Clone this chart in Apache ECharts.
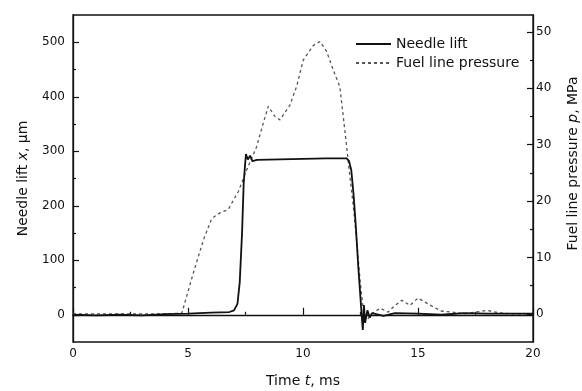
<!DOCTYPE html>
<html>
<head>
<meta charset="utf-8">
<script src="https://cdn.jsdelivr.net/npm/echarts@6/dist/echarts.min.js"></script>
<style>
  html, body { margin: 0; padding: 0; background: #fff; }
  #chart { width: 582px; height: 391px; }
</style>
</head>
<body>
<div id="chart"></div>
<script>
// tick positions
const timeTicks = [0, 5, 10, 15, 20]
const timeMinorTicks = [2.5, 7.5, 12.5, 17.5]
const liftTicks = [0, 100, 200, 300, 400, 500]
const liftMinorTicks = [50, 150, 250, 350, 450]
const pressTicks = [0, 10, 20, 30, 40, 50]
const pressMinorTicks = [5, 15, 25, 35, 45]

// needle lift, um
const liftTime = [0, 1, 2, 3, 4, 5, 6, 6.8, 7.0, 7.15, 7.25, 7.35, 7.42, 7.48, 7.52, 7.6, 7.7, 7.8, 8, 9, 10, 11, 11.9, 12.0, 12.1, 12.2, 12.3, 12.4, 12.5, 12.55, 12.6, 12.65, 12.7, 12.8, 12.9, 13.0, 13.5, 14, 15, 16, 17, 18, 19, 20]
const liftValue = [0, -1, 0, -1, 1, 2, 4, 5, 8, 20, 60, 150, 240, 275, 295, 285, 292, 282, 284, 285, 286, 287, 287, 282, 265, 220, 160, 90, 30, 0, -28, 18, -15, 8, -5, 3, -2, 3, 2, 0, 3, 2, 2, 2]

// fuel line pressure, MPa
const pressTime = [0, 2, 4, 4.73, 5.23, 5.67, 6.03, 6.39, 6.75, 7.19, 7.55, 7.98, 8.27, 8.49, 8.78, 9.0, 9.43, 9.72, 10.01, 10.45, 10.74, 11.03, 11.32, 11.6, 11.75, 11.9, 12.04, 12.19, 12.33, 12.48, 12.62, 12.8, 13.0, 13.35, 13.7, 14.0, 14.3, 14.65, 15.0, 15.5, 16, 16.5, 17, 18, 18.5, 19, 20]
const pressValue = [0, 0, 0, 0.1, 7.2, 13.1, 16.9, 17.9, 18.5, 21.7, 25.5, 29.6, 33.8, 36.8, 35, 34.4, 37, 40.3, 45, 47.6, 48.3, 46.5, 43.2, 40.3, 35, 29.6, 24.3, 19, 13.1, 6, 0.7, -1, 0, 1, 0.3, 1.5, 2.4, 1.5, 2.8, 1.6, 0.5, 0.3, 0, 0.6, 0.2, 0, 0]

const font = 'DejaVu Sans'
const ink = '#111'

const chart = echarts.init(document.getElementById('chart'), null, { renderer: 'canvas' })

const tickAxis = (extra) => Object.assign({
  type: 'value',
  axisLine: { show: false },
  axisLabel: { show: false },
  splitLine: { show: false }
}, extra)

const italic = { fontStyle: 'italic', fontFamily: font, fontSize: 14, color: ink }

chart.setOption({
  animation: false,
  textStyle: { fontFamily: font, color: ink },
  grid: {
    left: 73, right: 49, top: 15, bottom: 49,
    show: true, borderColor: ink, borderWidth: 1.3,
    outerBoundsMode: 'none'
  },
  legend: {
    orient: 'vertical',
    left: 350, top: 32,
    itemWidth: 35, itemHeight: 14, itemGap: 5,
    itemStyle: { color: 'transparent', borderWidth: 0, opacity: 0 },
    textStyle: { fontFamily: font, fontSize: 14, color: ink },
    data: ['Needle lift', 'Fuel line pressure']
  },
  xAxis: [
    {
      type: 'value', min: 0, max: 20,
      name: 'Time {i|t}, ms', nameLocation: 'middle', nameGap: 32,
      nameTextStyle: { fontFamily: font, fontSize: 14, color: ink, rich: { i: italic } },
      axisLine: { lineStyle: { color: ink, width: 1.3 } },
      axisTick: { inside: true, length: 7, customValues: timeTicks, lineStyle: { color: ink, width: 1.2 } },
      axisLabel: { customValues: timeTicks, margin: 6, fontSize: 12, color: ink, fontFamily: font },
      splitLine: { show: false }
    },
    tickAxis({
      min: 0, max: 20, position: 'bottom',
      axisTick: { inside: true, length: 3, customValues: timeMinorTicks, lineStyle: { color: ink, width: 1.2 } }
    })
  ],
  yAxis: [
    {
      type: 'value', min: -50, max: 550, position: 'left',
      name: 'Needle lift {i|x}, μm', nameLocation: 'middle', nameGap: 43, nameRotate: 90,
      nameTextStyle: { fontFamily: font, fontSize: 14, color: ink, rich: { i: italic } },
      axisLine: { show: true, lineStyle: { color: ink, width: 1.3 } },
      axisTick: { inside: true, length: 6, customValues: liftTicks, lineStyle: { color: ink, width: 1.2 } },
      axisLabel: { customValues: liftTicks, margin: 8, fontSize: 12, color: ink, fontFamily: font },
      splitLine: { show: false }
    },
    tickAxis({
      min: -50, max: 550, position: 'left',
      axisTick: { inside: true, length: 3, customValues: liftMinorTicks, lineStyle: { color: ink, width: 1.2 } }
    }),
    {
      type: 'value', min: -5, max: 53, position: 'right',
      name: 'Fuel line pressure {i|p}, MPa', nameLocation: 'middle', nameGap: 33, nameRotate: 90,
      nameTextStyle: { fontFamily: font, fontSize: 14, color: ink, padding: [0, 0, 0, 30], rich: { i: italic } },
      axisLine: { show: true, lineStyle: { color: ink, width: 1.3 } },
      axisTick: { inside: true, length: 6, customValues: pressTicks, lineStyle: { color: ink, width: 1.2 } },
      axisLabel: { customValues: pressTicks, margin: 3, fontSize: 12, color: ink, fontFamily: font },
      splitLine: { show: false }
    },
    tickAxis({
      min: -5, max: 53, position: 'right',
      axisTick: { inside: true, length: 3, customValues: pressMinorTicks, lineStyle: { color: ink, width: 1.2 } }
    })
  ],
  series: [
    {
      name: 'Fuel line pressure',
      type: 'line',
      yAxisIndex: 2,
      symbol: 'none',
      z: 2,
      lineStyle: { color: '#555', width: 1.3, type: [3, 3] },
      itemStyle: { color: '#555' },
      data: pressTime.map((t, i) => [t, pressValue[i]])
    },
    {
      name: 'Needle lift',
      type: 'line',
      yAxisIndex: 0,
      symbol: 'none',
      z: 3,
      lineStyle: { color: ink, width: 1.8 },
      itemStyle: { color: ink },
      data: liftTime.map((t, i) => [t, liftValue[i]])
    }
  ]
})
</script>
</body>
</html>
